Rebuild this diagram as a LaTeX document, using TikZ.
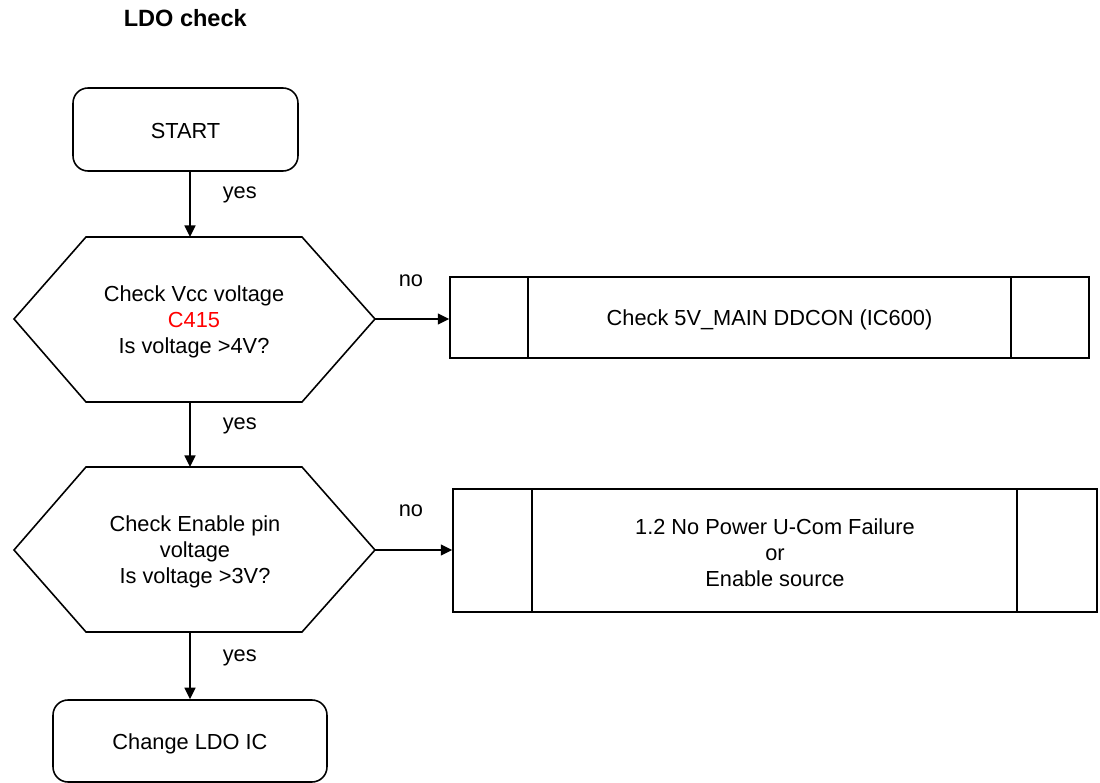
\documentclass[tikz,border=0pt]{standalone}
\usepackage{fontspec}
\setmainfont{Liberation Sans}
\usetikzlibrary{arrows.meta}
\begin{document}
\begin{tikzpicture}[x=0.02cm,y=-0.02cm,line width=0.9pt,
  txt/.style={font=\fontsize{12.4}{14.8}\selectfont, align=center, inner sep=0pt},
  lbl/.style={font=\fontsize{12.4}{14.8}\selectfont, inner sep=0pt, anchor=base west},
  term/.style={draw, rounded corners=0.3cm, txt},
  procbox/.style={draw, txt},
  arr/.style={-{Triangle[length=0.23cm,width=0.22cm]}}]
\useasboundingbox (0,0) rectangle (1100,783);

% title
\node[lbl, font=\fontsize{13.4}{16}\selectfont\bfseries] (title) at (123,27) {LDO check};

% START
\node[term, minimum width=4.5cm, minimum height=1.66cm] (start) at (185.5,129.5) {};
\node[txt] (startt) at (185.5,131.5) {START};

% decision 1
\draw (14,319) -- (86,237) -- (302,237) -- (375,319) -- (302,402) -- (86,402) -- cycle;
\coordinate (d1n) at (190,237);
\coordinate (d1s) at (190,402);
\coordinate (d1e) at (375,319);
\node[txt] (d1) at (194,322) {Check Vcc voltage\\\textcolor{red}{C415}\\Is voltage >4V?};

% box 1
\node[procbox, minimum width=12.78cm, minimum height=1.62cm] (b1) at (769.5,317.5) {};
\node[txt] (b1t) at (769.5,320) {Check 5V\_MAIN DDCON (IC600)};
\draw ([xshift=1.58cm]b1.north west) -- ([xshift=1.58cm]b1.south west);
\draw ([xshift=-1.58cm]b1.north east) -- ([xshift=-1.58cm]b1.south east);

% decision 2
\draw (14,550) -- (86,467) -- (302,467) -- (375,550) -- (302,632) -- (86,632) -- cycle;
\coordinate (d2n) at (190,467);
\coordinate (d2s) at (190,632);
\coordinate (d2e) at (375,550);
\node[txt] (d2) at (195,552) {Check Enable pin\\voltage\\Is voltage >3V?};

% box 2
\node[procbox, minimum width=12.88cm, minimum height=2.46cm] (b2) at (775,550.5) {};
\node[txt] (b2t) at (775,552.5) {1.2 No Power U-Com Failure\\or\\Enable source};
\draw ([xshift=1.6cm]b2.north west) -- ([xshift=1.6cm]b2.south west);
\draw ([xshift=-1.62cm]b2.north east) -- ([xshift=-1.62cm]b2.south east);

% end
\node[term, minimum width=5.48cm, minimum height=1.64cm] (endbox) at (190,741) {};
\node[txt] (endt) at (190,743.5) {Change LDO IC};

% connectors
\draw[arr] (d1n |- start.south) -- (d1n);
\draw[arr] (d1s) -- (d2n);
\draw[arr] (d2s) -- (endbox.north);
\draw[arr] (d1e) -- (d1e -| b1.west);
\draw[arr] (d2e) -- (d2e -| b2.west);

% labels
\node[lbl] (y1) at (222,199) {yes};
\node[lbl] (y2) at (222,430) {yes};
\node[lbl] (y3) at (222,662) {yes};
\node[lbl] (n1) at (398,287) {no};
\node[lbl] (n2) at (398,517) {no};
\end{tikzpicture}
\end{document}
